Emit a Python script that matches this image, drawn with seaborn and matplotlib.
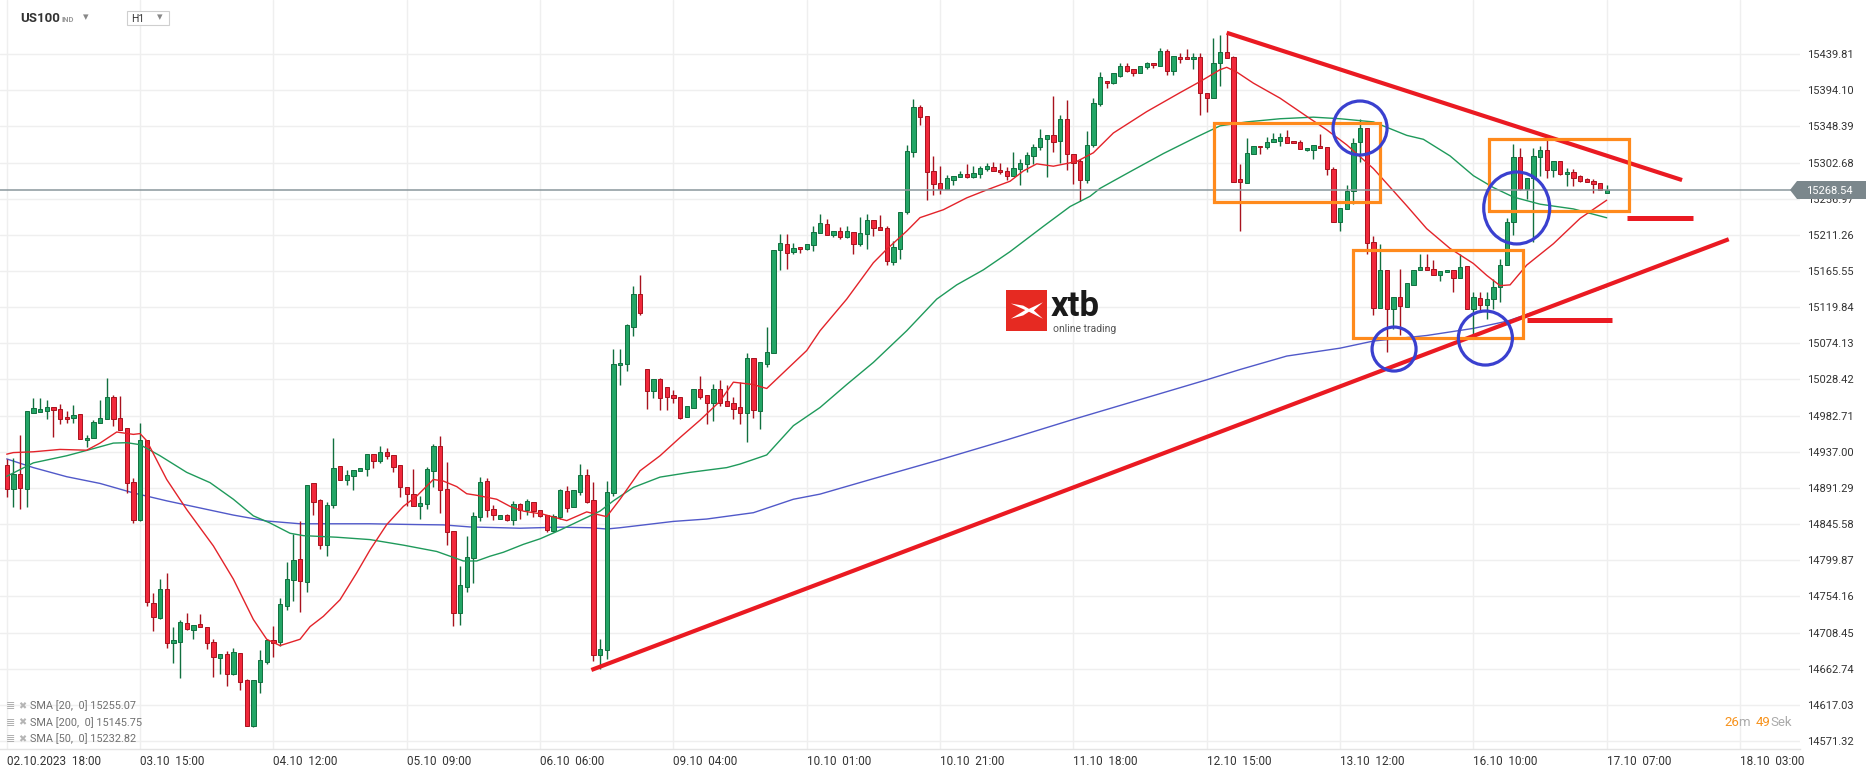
import numpy as np
import pandas as pd
import matplotlib
matplotlib.use("Agg")
import matplotlib.pyplot as plt
import seaborn as sns
from matplotlib.patches import Rectangle, Ellipse, Polygon

# ---------------- data ----------------
opens = [
14919.8, 14889.5, 14909.3, 14890.4, 14986.0, 14987.6, 14988.4, 14993.9, 14991.4, 14981.3,
14980.0, 14984.2, 14952.2, 14954.8, 14973.7, 14978.8, 15006.5, 14980.0, 14966.6, 14899.2,
14850.4, 14951.4, 14746.4, 14727.4, 14763.2, 14695.8, 14696.7, 14721.1, 14711.4, 14719.0,
14716.0, 14697.1, 14676.1, 14681.1, 14655.9, 14683.2, 14648.3, 14590.6, 14646.2, 14671.5,
14698.7, 14696.8, 14741.9, 14774.7, 14801.7, 14772.6, 14897.6, 14876.6, 14818.9, 14869.5,
14919.1, 14901.5, 14906.5, 14912.8, 14915.3, 14934.3, 14925.0, 14936.8, 14932.6, 14920.0,
14892.6, 14884.2, 14868.2, 14871.6, 14913.2, 14944.8, 14890.5, 14836.6, 14733.5, 14766.3,
14803.0, 14854.7, 14900.6, 14864.8, 14852.2, 14857.7, 14850.5, 14871.6, 14864.0, 14873.7,
14864.0, 14857.7, 14837.4, 14854.9, 14886.9, 14866.7, 14885.6, 14907.6, 14876.0, 14680.0,
14686.0, 14884.4, 15046.5, 15047.7, 15095.3, 15136.2, 15041.4, 15014.1, 15028.8, 15018.3,
15008.6, 15005.7, 14980.4, 14992.2, 15016.2, 15008.6, 14998.5, 15017.0, 15001.4, 14998.5,
14993.0, 14985.8, 15055.3, 14988.8, 15047.7, 15062.5, 15191.7, 15199.3, 15189.6, 15196.4,
15193.8, 15198.7, 15213.4, 15225.5, 15210.8, 15216.2, 15209.0, 15215.0, 15199.8, 15212.4,
15229.7, 15220.8, 15220.0, 15177.1, 15193.5, 15239.8, 15315.6, 15372.8, 15361.0, 15291.6,
15276.8, 15269.3, 15280.3, 15284.0, 15288.2, 15284.0, 15288.2, 15294.5, 15297.0, 15293.7,
15292.4, 15285.3, 15294.5, 15300.8, 15311.4, 15321.9, 15332.4, 15337.0, 15329.5, 15357.7,
15313.5, 15304.2, 15280.0, 15324.9, 15376.2, 15406.1, 15402.7, 15412.4, 15424.6, 15420.4,
15415.4, 15423.8, 15428.0, 15425.0, 15444.0, 15418.7, 15436.4, 15435.6, 15433.0, 15435.6,
15390.1, 15384.6, 15428.0, 15442.7, 15435.6, 15281.5, 15277.3, 15313.1, 15324.0, 15322.7,
15329.1, 15330.3, 15334.5, 15329.9, 15328.2, 15318.6, 15318.6, 15324.0, 15322.8, 15294.1,
15228.0, 15243.6, 15266.8, 15328.3, 15346.0, 15202.1, 15118.7, 15167.1, 15117.9, 15132.6,
15120.0, 15147.3, 15166.7, 15170.5, 15167.5, 15160.0, 15164.2, 15166.3, 15156.6, 15171.3,
15117.1, 15131.8, 15122.9, 15129.7, 15145.2, 15172.6, 15227.3, 15310.2, 15269.4, 15282.9,
15309.4, 15319.1, 15292.6, 15305.2, 15288.3, 15291.3, 15285.0, 15282.0, 15279.9, 15276.6,
15264.5]

highs = [
14927.4, 14929.5, 14957.7, 14988.4, 15004.4, 15004.4, 15001.9, 14994.0, 14996.9, 14988.4,
14995.6, 14984.2, 14957.7, 14977.0, 15001.9, 15029.7, 15008.2, 15007.4, 14967.0, 14904.2,
14972.9, 14951.4, 14758.2, 14775.8, 14784.3, 14715.6, 14724.1, 14732.9, 14718.2, 14731.6,
14716.0, 14700.9, 14681.9, 14684.9, 14689.5, 14683.2, 14649.5, 14648.3, 14686.0, 14698.8,
14717.0, 14752.4, 14797.9, 14833.2, 14849.2, 14895.1, 14897.6, 14877.9, 14874.1, 14954.5,
14919.1, 14913.6, 14914.1, 14916.6, 14934.3, 14934.3, 14944.8, 14941.9, 14932.6, 14920.0,
14892.6, 14915.3, 14881.2, 14917.4, 14947.3, 14957.4, 14924.6, 14836.6, 14792.4, 14831.1,
14860.6, 14905.2, 14904.0, 14870.3, 14857.2, 14858.9, 14874.5, 14872.4, 14877.9, 14873.7,
14864.0, 14857.7, 14858.5, 14889.8, 14893.2, 14888.6, 14921.4, 14915.1, 14898.3, 14700.0,
14900.3, 15066.7, 15066.7, 15098.3, 15146.7, 15160.2, 15041.4, 15029.6, 15030.9, 15018.3,
15014.9, 15005.7, 14995.1, 15016.2, 15033.0, 15008.6, 15022.5, 15027.5, 15021.2, 15005.7,
15024.6, 15062.5, 15055.3, 15050.7, 15094.9, 15191.7, 15212.8, 15212.8, 15201.4, 15196.4,
15200.1, 15222.0, 15237.0, 15231.8, 15216.6, 15220.8, 15222.1, 15215.0, 15233.9, 15238.1,
15229.7, 15236.8, 15222.1, 15203.2, 15240.2, 15325.3, 15383.4, 15375.8, 15361.0, 15311.4,
15298.7, 15286.5, 15286.1, 15291.6, 15300.8, 15297.9, 15298.7, 15302.1, 15303.4, 15302.1,
15296.6, 15316.0, 15307.6, 15316.0, 15326.5, 15345.5, 15337.0, 15387.1, 15363.2, 15382.1,
15313.5, 15307.6, 15342.0, 15384.6, 15416.6, 15406.1, 15415.4, 15428.8, 15428.0, 15420.4,
15425.0, 15430.1, 15428.0, 15446.9, 15445.7, 15437.2, 15440.6, 15445.7, 15440.6, 15441.5,
15390.1, 15459.5, 15463.8, 15465.9, 15437.2, 15300.9, 15333.3, 15323.6, 15324.0, 15335.4,
15339.6, 15339.6, 15343.8, 15329.9, 15331.2, 15321.5, 15324.9, 15338.3, 15322.8, 15297.5,
15245.7, 15274.3, 15333.3, 15357.8, 15346.0, 15209.6, 15199.9, 15167.1, 15132.6, 15168.4,
15150.3, 15167.1, 15187.3, 15187.3, 15178.9, 15165.4, 15167.1, 15166.3, 15187.3, 15171.3,
15139.0, 15139.0, 15139.0, 15155.8, 15180.2, 15232.3, 15326.2, 15320.8, 15282.9, 15320.8,
15323.3, 15331.7, 15305.2, 15305.2, 15295.5, 15294.7, 15287.1, 15282.9, 15282.0, 15276.6,
15274.4]

lows = [
14880.2, 14867.0, 14865.0, 14867.0, 14986.0, 14987.6, 14978.0, 14955.6, 14971.6, 14973.7,
14973.7, 14953.5, 14943.4, 14954.0, 14973.0, 14978.0, 14969.5, 14964.0, 14885.0, 14847.4,
14850.0, 14742.2, 14710.6, 14725.3, 14689.5, 14670.6, 14651.6, 14711.8, 14700.9, 14716.0,
14687.4, 14652.9, 14656.7, 14641.1, 14655.0, 14636.0, 14589.8, 14589.0, 14632.7, 14668.5,
14677.0, 14691.4, 14736.8, 14749.0, 14734.3, 14759.6, 14856.8, 14814.7, 14805.0, 14866.1,
14901.5, 14894.7, 14888.4, 14912.8, 14906.1, 14916.6, 14922.9, 14928.0, 14911.1, 14880.0,
14868.2, 14868.2, 14852.2, 14864.8, 14892.2, 14859.8, 14818.9, 14716.6, 14717.9, 14760.0,
14771.4, 14849.3, 14854.3, 14850.5, 14852.2, 14849.3, 14845.0, 14852.2, 14857.7, 14854.7,
14854.7, 14835.8, 14835.8, 14852.0, 14861.2, 14866.7, 14882.3, 14872.2, 14672.0, 14663.0,
14675.0, 14881.4, 15021.2, 15039.3, 15083.5, 15110.1, 14990.9, 15004.8, 14990.1, 14990.1,
14999.3, 14978.3, 14980.4, 14992.2, 15003.6, 14972.0, 14976.2, 14995.1, 14995.1, 14978.3,
14972.0, 14948.8, 14979.1, 14965.6, 15044.4, 15062.5, 15166.9, 15167.7, 15186.7, 15187.9,
15192.1, 15190.7, 15213.4, 15210.8, 15208.6, 15206.5, 15207.4, 15187.2, 15196.9, 15193.5,
15209.5, 15217.1, 15172.9, 15172.9, 15180.9, 15237.7, 15309.3, 15350.5, 15255.0, 15261.3,
15263.4, 15269.3, 15274.8, 15284.0, 15283.2, 15283.2, 15283.2, 15291.6, 15291.6, 15288.6,
15281.1, 15285.3, 15273.9, 15290.3, 15301.3, 15319.0, 15284.0, 15316.0, 15302.1, 15292.8,
15276.0, 15253.7, 15277.0, 15322.8, 15374.5, 15396.4, 15401.9, 15410.3, 15417.5, 15412.4,
15415.4, 15420.8, 15421.7, 15425.0, 15413.3, 15413.3, 15428.0, 15433.0, 15420.8, 15362.7,
15366.1, 15384.6, 15399.8, 15434.3, 15277.7, 15216.7, 15277.3, 15313.1, 15313.1, 15319.4,
15329.1, 15323.6, 15327.8, 15327.0, 15319.4, 15317.3, 15306.8, 15320.7, 15287.0, 15228.0,
15216.7, 15243.6, 15249.9, 15303.9, 15187.3, 15110.3, 15118.7, 15063.2, 15092.6, 15084.2,
15120.0, 15147.3, 15166.7, 15166.3, 15160.0, 15152.4, 15164.2, 15138.9, 15156.6, 15117.1,
15084.2, 15115.8, 15105.3, 15117.9, 15126.3, 15172.6, 15210.5, 15267.3, 15256.8, 15202.6,
15286.2, 15282.9, 15284.1, 15287.1, 15273.6, 15272.8, 15277.8, 15277.8, 15264.4, 15268.1,
15264.5]

closes = [
14889.5, 14909.3, 14891.6, 14988.4, 14992.7, 14990.5, 14993.9, 14989.7, 14978.8, 14978.8,
14983.4, 14953.5, 14954.8, 14975.0, 14980.0, 15006.5, 14978.8, 14964.4, 14897.9, 14850.4,
14951.4, 14747.6, 14728.7, 14763.2, 14695.8, 14698.8, 14722.0, 14713.5, 14718.2, 14716.1,
14695.8, 14678.2, 14681.9, 14655.9, 14684.5, 14646.2, 14590.6, 14648.3, 14673.5, 14698.8,
14695.7, 14744.0, 14776.8, 14800.8, 14773.5, 14895.1, 14873.7, 14818.9, 14869.9, 14916.6,
14901.5, 14908.2, 14914.1, 14916.6, 14934.3, 14925.0, 14936.8, 14931.3, 14917.9, 14892.6,
14883.8, 14868.2, 14872.4, 14915.3, 14944.8, 14889.2, 14835.8, 14733.5, 14768.0, 14804.2,
14855.6, 14898.5, 14863.1, 14857.7, 14857.2, 14850.5, 14871.6, 14864.0, 14874.5, 14861.9,
14855.6, 14837.9, 14856.4, 14888.6, 14865.4, 14888.6, 14907.6, 14873.9, 14680.0, 14688.0,
14885.7, 15048.6, 15049.0, 15097.0, 15136.2, 15113.0, 15014.1, 15028.8, 15004.8, 15006.5,
15004.4, 14979.5, 14994.3, 15016.2, 15005.7, 14998.5, 15017.0, 14998.5, 14995.1, 14990.9,
14985.8, 15055.3, 14990.1, 15050.7, 15063.3, 15191.7, 15201.4, 15188.8, 15195.1, 15193.8,
15200.1, 15215.1, 15225.6, 15210.8, 15216.6, 15208.6, 15215.5, 15199.8, 15213.7, 15229.7,
15220.0, 15217.1, 15177.9, 15196.0, 15240.2, 15316.8, 15372.8, 15359.8, 15290.3, 15275.6,
15269.3, 15283.2, 15286.1, 15288.2, 15284.0, 15289.5, 15295.8, 15297.9, 15291.6, 15290.3,
15285.3, 15295.8, 15302.1, 15311.8, 15322.3, 15333.7, 15337.0, 15328.6, 15357.7, 15313.5,
15302.1, 15280.2, 15325.0, 15378.3, 15410.3, 15402.7, 15415.4, 15424.6, 15418.7, 15415.4,
15425.0, 15428.8, 15425.9, 15444.0, 15418.7, 15437.2, 15433.5, 15433.0, 15435.6, 15390.1,
15384.6, 15428.8, 15442.7, 15434.3, 15277.7, 15277.7, 15315.2, 15323.6, 15321.9, 15329.1,
15332.4, 15334.5, 15327.8, 15327.0, 15319.4, 15321.5, 15324.9, 15320.7, 15294.1, 15228.0,
15245.7, 15266.8, 15327.8, 15346.0, 15200.8, 15118.7, 15167.1, 15117.9, 15132.6, 15121.3,
15150.3, 15167.1, 15170.5, 15166.3, 15160.0, 15165.4, 15167.1, 15156.6, 15170.5, 15117.1,
15132.6, 15122.9, 15129.7, 15145.2, 15172.6, 15227.3, 15309.4, 15269.4, 15282.9, 15310.7,
15319.1, 15292.6, 15305.2, 15288.3, 15291.3, 15282.9, 15279.9, 15277.8, 15275.7, 15268.1,
15268.5]

# moving-average lines, read at sample candles
sma20_idx = [0, 1, 4, 8, 12, 14, 16.5, 19, 20, 21, 24, 27, 31, 34, 37, 39, 41, 44, 45.5, 47.5,
             50, 52.5, 54.5, 57, 59.5, 61.5, 64, 65.5, 67.5, 69, 70.5, 73.5, 75.5, 77.5, 80.5, 84,
             87, 90, 92, 95, 98, 101, 104, 107, 109, 112, 114, 116, 120, 122, 126, 130, 132, 135,
             137, 140.5, 144, 147, 150.5, 152.5, 154.5, 157, 160.5, 163, 166, 171, 176, 179, 182,
             183, 184.5, 187, 191, 195, 198, 201, 205, 210, 213, 216.5, 220, 222, 224, 225.5, 228,
             232, 236, 240]
sma20_val = [14934, 14936, 14937, 14940, 14939, 14948, 14962, 14959, 14960, 14951, 14902, 14864,
             14818, 14776, 14725, 14700, 14692, 14700, 14716, 14729, 14750, 14784, 14813, 14845,
             14868, 14881, 14902, 14900, 14893, 14884, 14882, 14877, 14868, 14862, 14858, 14850,
             14861, 14855, 14877, 14913, 14932, 14955, 14977, 15001, 15025, 15022, 15017, 15033,
             15065, 15090, 15130, 15176, 15193, 15216, 15233, 15243, 15258, 15268, 15279, 15292,
             15301, 15298, 15304, 15315, 15340, 15367, 15391, 15405, 15420, 15423, 15417, 15403,
             15384, 15361, 15344, 15325, 15295, 15248, 15219, 15194, 15175, 15160, 15147, 15148,
             15173, 15200, 15232, 15255.07]

sma50_idx = [0, 4, 9, 13, 16, 18, 20, 23, 27, 30.5, 34, 37, 39.5, 42.5, 44.5, 49.5, 54.5, 59.5,
             64.5, 66.5, 68.5, 70.5, 72.5, 74.5, 77.5, 80, 83, 86, 89, 91, 94, 98, 102.5, 108, 110,
             114, 118, 122, 126, 130, 135, 139.5, 142.5, 146.5, 150.5, 155.5, 159.5, 162.5, 164,
             168.5, 173.5, 178.5, 182, 186, 191, 196, 200, 205, 210, 212.5, 216.5, 220, 223, 226,
             230, 235, 240]
sma50_val = [14906, 14923, 14932, 14941, 14948, 14948.5, 14946, 14932, 14911, 14898, 14877, 14856,
             14847, 14834, 14831, 14829, 14826, 14819, 14811, 14805, 14799, 14799, 14805, 14810,
             14820, 14827, 14838, 14850, 14862, 14875, 14892, 14905, 14911, 14917, 14921.5, 14933,
             14970, 14993, 15022, 15050, 15090, 15130, 15148, 15167, 15190, 15222, 15247, 15260,
             15270, 15291, 15314, 15335, 15349, 15354, 15358, 15360, 15358, 15354, 15337, 15332,
             15311, 15286, 15271, 15259, 15250, 15244, 15232.82]

sma200_idx = [0, 4, 9, 14, 19, 24, 29, 34, 39, 44, 54.5, 61.5, 65.5, 69.5, 77, 83, 87.5, 90, 92,
              100, 105, 112, 118, 122, 130, 140, 150, 160, 170, 180, 185, 192, 200, 205, 213, 220,
              225, 232, 240]
sma200_val = [14928, 14917, 14905.5, 14897, 14885, 14875, 14866, 14857, 14849.5, 14846, 14846,
              14845, 14844.6, 14842, 14840.4, 14841.7, 14841, 14839.4, 14841, 14849, 14852, 14860,
              14877, 14883.5, 14903, 14927, 14952, 14978, 15003, 15028, 15041, 15058, 15068, 15077,
              15084, 15093, 15102, 15122, 15145.75]

x_tick_idx = [0, 20, 40, 60, 80, 100, 120, 140, 160, 180, 200, 220, 240, 260]
x_labels = ["02.10.2023  18:00", "03.10  15:00", "04.10  12:00", "05.10  09:00", "06.10  06:00",
            "09.10  04:00", "10.10  01:00", "10.10  21:00", "11.10  18:00", "12.10  15:00",
            "13.10  12:00", "16.10  10:00", "17.10  07:00", "18.10  03:00"]
y_ticks = [15439.81, 15394.10, 15348.39, 15302.68, 15256.97, 15211.26, 15165.55, 15119.84,
           15074.13, 15028.42, 14982.71, 14937.00, 14891.29, 14845.58, 14799.87, 14754.16,
           14708.45, 14662.74, 14617.03, 14571.32]
last_price = 15268.54
legend_lines = ["SMA [20,  0] 15255.07", "SMA [200,  0] 15145.75", "SMA [50,  0] 15232.82"]

# hand-drawn annotations (candle index, price)
trend_upper = ([183.0, 251.3], [15466.7, 15280.5])
trend_lower = ([87.7, 258.3], [14661.2, 15205.7])
hbar_upper = ([243.0, 253.0], [15232.8, 15232.8])
hbar_lower = ([228.0, 240.8], [15104.0, 15104.0])
boxes = [(181.1, 15252.9, 206.0, 15352.2), (202.0, 15081.0, 227.4, 15191.7),
         (222.3, 15241.0, 243.3, 15332.1)]
circles = [(203.0, 15346.3, 8.1, 68.2), (226.5, 15245.2, 9.9, 91.0),
           (208.1, 15066.9, 6.6, 55.6), (221.8, 15080.8, 8.1, 68.3)]

# ---------------- figure ----------------
sns.set_theme(style="white")
plt.rcParams['font.family'] = ['Roboto', 'DejaVu Sans']

W, H = 1866, 767
fig = plt.figure(figsize=(W / 100, H / 100), dpi=100)
fig.patch.set_facecolor("white")


def P(x, y):
    return (x / W, 1 - y / H)


AX_R, AX_B = 1800, 749
ax = fig.add_axes([0, 1 - AX_B / H, AX_R / W, AX_B / H])
ax.set_facecolor("white")
ax.set_xlim(-1.005, 268.99)
ax.set_ylim(14561.3, 15508.1)

o = np.array(opens); h = np.array(highs); l = np.array(lows); c = np.array(closes)
idx = np.arange(len(o))
up = c >= o
GREEN_F, GREEN_E = "#23a566", "#11703f"
RED_F, RED_E = "#f1283b", "#a8121e"
fills = np.where(up, GREEN_F, RED_F)
edges = np.where(up, GREEN_E, RED_E)

ax.vlines(idx, l, h, colors=edges, linewidth=1.0, zorder=2)
body_bottom = np.minimum(o, c)
body_h = np.maximum(np.abs(c - o), 1.4)
ax.bar(idx, body_h, bottom=body_bottom, width=0.64, color=fills, edgecolor=edges,
       linewidth=0.7, zorder=3)

sns.lineplot(x=sma200_idx, y=sma200_val, ax=ax, color="#5159c9", linewidth=1.0,
             estimator=None, sort=False, legend=False, zorder=1.5)
sns.lineplot(x=sma50_idx, y=sma50_val, ax=ax, color="#1f9a5b", linewidth=1.0,
             estimator=None, sort=False, legend=False, zorder=4)
sns.lineplot(x=sma20_idx, y=sma20_val, ax=ax, color="#e3232a", linewidth=1.0,
             estimator=None, sort=False, legend=False, zorder=4)

# current price line
ax.axhline(last_price, color="#8a979c", linewidth=1.1, zorder=4.5)

# annotations
TL = "#ea1a22"
ax.plot(*trend_upper, color=TL, linewidth=3.0, solid_capstyle="butt", zorder=6)
ax.plot(*trend_lower, color=TL, linewidth=3.0, solid_capstyle="butt", zorder=6)
ax.plot(*hbar_upper, color=TL, linewidth=3.6, solid_capstyle="butt", zorder=6)
ax.plot(*hbar_lower, color=TL, linewidth=3.6, solid_capstyle="butt", zorder=6)
for (x0, y0, x1, y1) in boxes:
    ax.add_patch(Rectangle((x0, y0), x1 - x0, y1 - y0, fill=False, edgecolor="#ff8a1c",
                           linewidth=2.3, zorder=7))
for (cx, cy, w, hh) in circles:
    ax.add_patch(Ellipse((cx, cy), w, hh, fill=False, edgecolor="#3a40cf",
                         linewidth=2.3, zorder=7))

# axes styling
ax.set_xticks(x_tick_idx)
ax.set_xticklabels(x_labels, ha="left")
ax.set_yticks(y_ticks)
ax.set_yticklabels([f"{v:.2f}" for v in y_ticks])
ax.yaxis.tick_right()
ax.tick_params(axis="x", length=0, pad=4, labelsize=8.5, labelcolor="#333333")
ax.tick_params(axis="y", length=0, pad=5, labelsize=8, labelcolor="#333333")
ax.grid(True, color="#efefef", linewidth=1.0, zorder=0)
ax.set_axisbelow(True)
for s in ["top", "left", "right"]:
    ax.spines[s].set_visible(False)
ax.spines["bottom"].set_color("#e4e4e4")
ax.spines["bottom"].set_linewidth(1.0)

# price tag
tag = Polygon([P(1790, 190), P(1797, 181), P(1866, 181), P(1866, 199), P(1797, 199)],
              closed=True, transform=fig.transFigure, facecolor="#7b878c", edgecolor="none",
              zorder=10)
fig.patches.append(tag)
fig.text(*P(1806, 190.5), f"{last_price:.2f}", color="white", fontsize=8, va="center",
         ha="left", zorder=11)

# header
fig.text(*P(20, 19), "US100", fontsize=9.5, fontweight="bold", color="#333333", va="center")
fig.text(*P(61, 19.5), "IND", fontsize=5.5, fontweight="bold", color="#999999", va="center")
fig.text(*P(83, 17), "▾", fontsize=8, color="#888888", va="center",
         family=["DejaVu Sans"])
hbox = Rectangle(P(126.7, 25.3), 42.6 / W, 14.3 / H, transform=fig.transFigure,
                 facecolor="white", edgecolor="#cfcfcf", linewidth=0.8, zorder=5)
fig.patches.append(hbox)
fig.text(*P(131, 19), "H1", fontsize=7.5, color="#333333", va="center", zorder=6)
fig.text(*P(157, 17), "▾", fontsize=8, color="#888888", va="center",
         family=["DejaVu Sans"], zorder=6)

# xtb logo
logo = Rectangle(P(1006, 331), 41 / W, 41 / H, transform=fig.transFigure,
                 facecolor="#e62a22", edgecolor="none", zorder=8)
fig.patches.append(logo)
sw = [(0.12, 0.33), (0.47, 0.49), (0.12, 0.70), (0.42, 0.62), (0.56, 0.53), (0.90, 0.70),
      (0.68, 0.50), (0.90, 0.30), (0.56, 0.46), (0.42, 0.38)]
fig.patches.append(Polygon([P(1006 + 41 * a, 290 + 41 * b) for a, b in sw], closed=True,
                           transform=fig.transFigure, facecolor="white", edgecolor="none",
                           zorder=9))
fig.text(*P(1051, 316), "xtb", fontsize=25, fontweight="bold", color="#1a1a1a",
         va="baseline", ha="left", zorder=9)
fig.text(*P(1053, 332), "online trading", fontsize=7.5, color="#555555", va="baseline",
         ha="left", zorder=9)

# SMA legend (bottom-left)
for k, txt in enumerate(legend_lines):
    yy = 706 + 16.5 * k
    fig.text(*P(6, yy), "≣", fontsize=8, color="#aaaaaa", va="center",
             family=["DejaVu Sans"])
    fig.text(*P(18, yy), "✖", fontsize=7, color="#b5b5b5", va="center",
             family=["DejaVu Sans"])
    fig.text(*P(30.5, yy), txt, fontsize=7.8, color="#707070", va="center")

# timer
fig.text(*P(1724, 722), "26", fontsize=9.5, color="#f7931e", va="center")
fig.text(*P(1738, 722), "m", fontsize=9.5, color="#aaaaaa", va="center")
fig.text(*P(1756, 722), "49", fontsize=9.5, color="#f7931e", va="center")
fig.text(*P(1770.5, 722), "Sek", fontsize=9.5, color="#aaaaaa", va="center")

fig.savefig("out.png", dpi=100, facecolor="white")
